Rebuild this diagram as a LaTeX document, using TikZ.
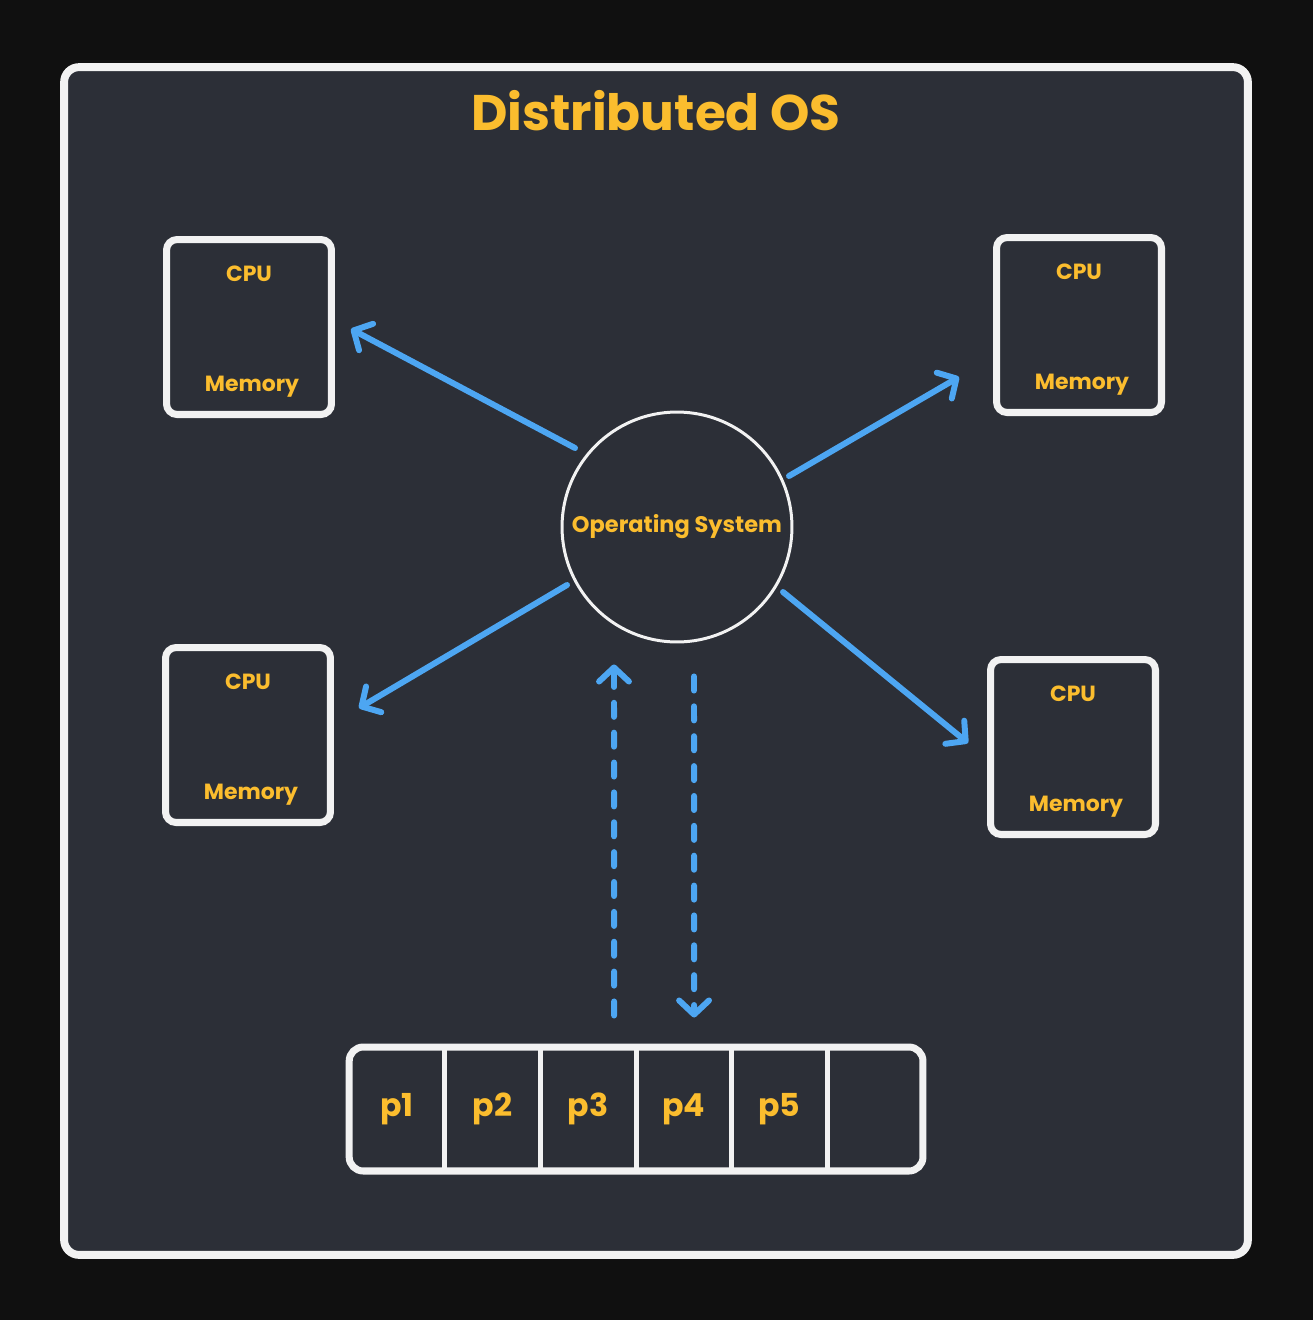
\documentclass[tikz,border=0pt]{standalone}
\usepackage{fontspec}
\setmainfont{Poppins}
\usetikzlibrary{positioning,calc,arrows.meta,fit}
\definecolor{bgdark}{HTML}{101010}
\definecolor{slate}{HTML}{2C2F37}
\definecolor{chalk}{HTML}{F2F2F2}
\definecolor{amber}{HTML}{FBBD2E}
\definecolor{sky}{HTML}{4DA6F2}
\tikzset{
  panelbox/.style={draw=chalk,fill=slate,line width=4.5pt,rounded corners=8.5pt,
    minimum width=23.68cm,minimum height=23.76cm,inner sep=0},
  machine/.style={draw=chalk,line width=4pt,rounded corners=6pt,
    minimum width=3.3cm,minimum height=3.5cm,inner sep=0},
  lbl/.style={text=amber,font=\bfseries\fontsize{12.5}{14}\selectfont},
  osnode/.style={circle,draw=chalk,line width=1.7pt,minimum size=4.6cm,inner sep=0,
    text=amber,font=\bfseries\fontsize{12.8}{14}\selectfont},
  cell/.style={minimum width=1.913cm,minimum height=2.48cm,inner sep=0,outer sep=0,
    text=amber,font=\bfseries\fontsize{18}{20}\selectfont},
  bar/.style={draw=chalk,line width=4pt,rounded corners=8pt,inner sep=0},
  divider/.style={draw=chalk,line width=2.8pt},
  link/.style={draw=sky,line width=3.4pt,line cap=round,
    -{Straight Barb[length=8pt,width=17pt,round]}},
  dashlink/.style={link,dash pattern=on 8pt off 9pt}
}
\begin{document}
\begin{tikzpicture}[x=0.02cm,y=-0.02cm]
\path[use as bounding box,fill=bgdark] (0,0) rectangle (1313,1320);
\node[panelbox] (frame) at (656,661) {};
\node[text=amber,font=\bfseries\fontsize{28.5}{32}\selectfont] (title) at (656,111) {Distributed OS};

% the four machines
\node[machine] (m1) at (249,327) {};
\node[machine] (m2) at (1079,325) {};
\node[machine] (m3) at (248,735) {};
\node[machine] (m4) at (1073,747) {};
\foreach \m in {m1,m2,m3,m4} {
  \node[lbl] (\m-cpu) at ($(\m)+(0,-53)$) {CPU};
  \node[lbl] (\m-mem) at ($(\m)+(3,60)$) {Memory};
}

% operating system
\node[osnode] (os) at (677,527) {Operating System};
\draw[link] ($(os)+(-102,-79)$) -- ($(m1.east)+(16,2)$);
\draw[link] ($(os)+(112,-51)$) -- ($(m2.west)+(-34,52)$);
\draw[link] ($(os)+(-110,58)$) -- ($(m3.east)+(25,-27)$);
\draw[link] ($(os)+(106,65)$) -- ($(m4.west)+(-19,-4)$);

% process queue
\node[cell] (c1) at (397,1109) {p1};
\node[cell,right=0pt of c1] (c2) {p2};
\node[cell,right=0pt of c2] (c3) {p3};
\node[cell,right=0pt of c3] (c4) {p4};
\node[cell,right=0pt of c4] (c5) {p5};
\node[cell,right=0pt of c5] (c6) {};
\node[bar,fit=(c1)(c6)] (queue) {};
\foreach \a in {c1,c2,c3,c4,c5}
  \draw[divider] (\a.north east) -- (\a.south east);

\draw[dashlink] ($(queue.north)+(-22,-28)$) -- ($(os.south)+(-63,21)$);
\draw[dashlink] ($(os.south)+(17,33)$) -- ($(queue.north)+(58,-26)$);
\end{tikzpicture}
\end{document}
